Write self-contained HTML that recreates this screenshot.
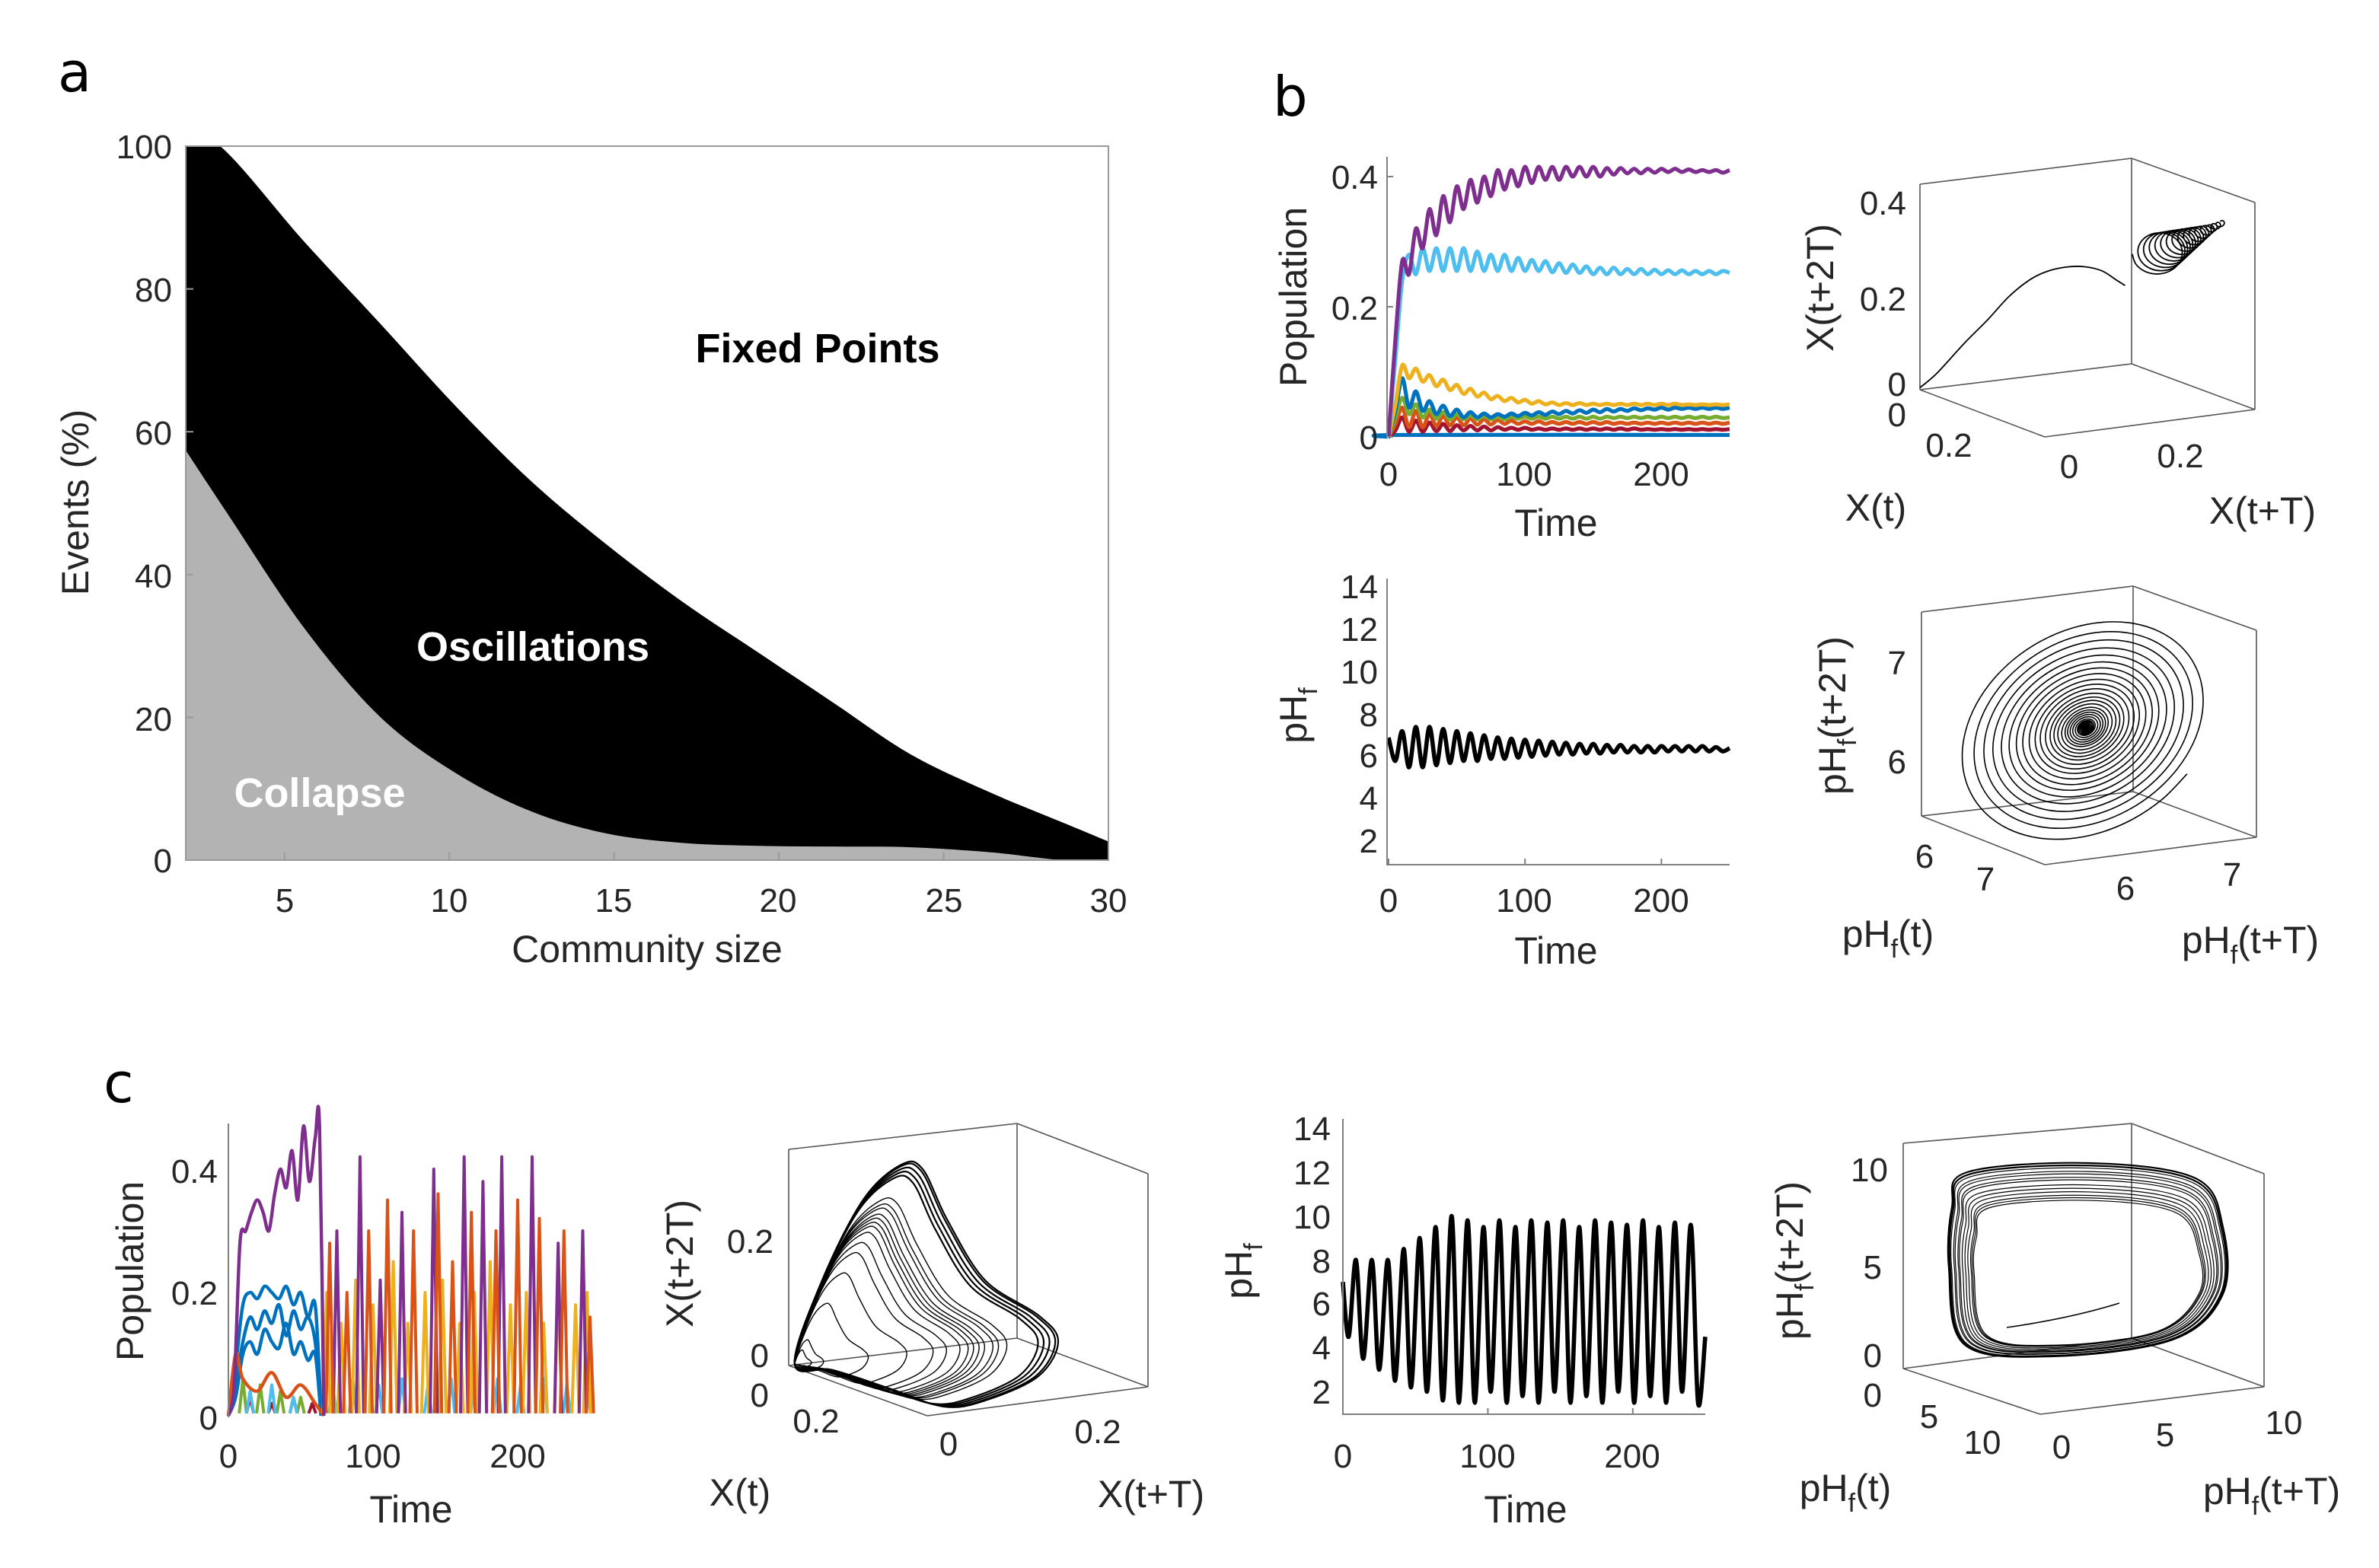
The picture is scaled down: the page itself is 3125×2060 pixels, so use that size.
<!DOCTYPE html>
<html><head><meta charset="utf-8"><style>
html,body{margin:0;padding:0;background:#fff;}
svg{display:block;}
text{font-family:"Liberation Sans",Arial,sans-serif;fill:#262626;}
.tk{font-size:22px;}
.lb{font-size:25px;}
.pl{font-family:"DejaVu Sans","Liberation Sans",sans-serif;font-size:36px;fill:#000;}
</style></head><body>
<svg id="fig" width="3125" height="2060" viewBox="0 0 1562.5 1030" xmlns="http://www.w3.org/2000/svg">
<defs><clipPath id="aclip"><rect x="122" y="96" width="606" height="469"/></clipPath></defs>
<rect x="0" y="0" width="1562.5" height="1030" fill="#fff"/>
<text class="pl" x="38" y="60">a</text>
<text class="pl" x="836" y="76">b</text>
<text class="pl" x="68" y="724">c</text>

<g id="pa"></g>
<g id="pb1"></g>
<g id="pb2"></g>
<g id="pb3"></g>
<g id="pb4"></g>
<g id="pc1"></g>
<g id="pc2"></g>
<g id="pc3"></g>
<g id="pc4"></g>

<g>
<text class="tk" x="113" y="104" text-anchor="end">100</text>
<text class="tk" x="113" y="198" text-anchor="end">80</text>
<text class="tk" x="113" y="292" text-anchor="end">60</text>
<text class="tk" x="113" y="386" text-anchor="end">40</text>
<text class="tk" x="113" y="480" text-anchor="end">20</text>
<text class="tk" x="113" y="573" text-anchor="end">0</text>
<text class="tk" x="187" y="599" text-anchor="middle">5</text>
<text class="tk" x="295" y="599" text-anchor="middle">10</text>
<text class="tk" x="403" y="599" text-anchor="middle">15</text>
<text class="tk" x="511" y="599" text-anchor="middle">20</text>
<text class="tk" x="620" y="599" text-anchor="middle">25</text>
<text class="tk" x="728" y="599" text-anchor="middle">30</text>
<text class="lb" x="425" y="632" text-anchor="middle">Community size</text>
<text class="lb" transform="translate(58,330) rotate(-90)" text-anchor="middle">Events (%)</text>
<text x="537" y="238" text-anchor="middle" style="font-size:27px;font-weight:bold;fill:#000">Fixed Points</text>
<text x="350" y="434" text-anchor="middle" style="font-size:27px;font-weight:bold;fill:#fff">Oscillations</text>
<text x="210" y="530" text-anchor="middle" style="font-size:27px;font-weight:bold;fill:#fff">Collapse</text>
</g>

<g>
<text class="tk" x="905" y="124" text-anchor="end">0.4</text>
<text class="tk" x="905" y="210" text-anchor="end">0.2</text>
<text class="tk" x="905" y="295" text-anchor="end">0</text>
<text class="tk" x="912" y="319" text-anchor="middle">0</text>
<text class="tk" x="1001" y="319" text-anchor="middle">100</text>
<text class="tk" x="1091" y="319" text-anchor="middle">200</text>
<text class="lb" x="1022" y="352" text-anchor="middle">Time</text>
<text class="lb" transform="translate(858,195) rotate(-90)" text-anchor="middle">Population</text>

<text class="tk" x="1252" y="141" text-anchor="end">0.4</text>
<text class="tk" x="1252" y="204" text-anchor="end">0.2</text>
<text class="tk" x="1252" y="260" text-anchor="end">0</text>
<text class="tk" x="1252" y="280" text-anchor="end">0</text>
<text class="tk" x="1280" y="300" text-anchor="middle">0.2</text>
<text class="tk" x="1359" y="314" text-anchor="middle">0</text>
<text class="tk" x="1432" y="307" text-anchor="middle">0.2</text>
<text class="lb" x="1232" y="342" text-anchor="middle">X(t)</text>
<text class="lb" x="1486" y="344" text-anchor="middle">X(t+T)</text>
<text class="lb" transform="translate(1204,189) rotate(-90)" text-anchor="middle">X(t+2T)</text>

<text class="tk" x="905" y="393" text-anchor="end">14</text>
<text class="tk" x="905" y="421" text-anchor="end">12</text>
<text class="tk" x="905" y="449" text-anchor="end">10</text>
<text class="tk" x="905" y="477" text-anchor="end">8</text>
<text class="tk" x="905" y="504" text-anchor="end">6</text>
<text class="tk" x="905" y="532" text-anchor="end">4</text>
<text class="tk" x="905" y="560" text-anchor="end">2</text>
<text class="tk" x="912" y="599" text-anchor="middle">0</text>
<text class="tk" x="1001" y="599" text-anchor="middle">100</text>
<text class="tk" x="1091" y="599" text-anchor="middle">200</text>
<text class="lb" x="1022" y="633" text-anchor="middle">Time</text>
<text class="lb" transform="translate(858,470) rotate(-90)" text-anchor="middle">pH<tspan dy="7" font-size="17">f</tspan></text>

<text class="tk" x="1252" y="443" text-anchor="end">7</text>
<text class="tk" x="1252" y="508" text-anchor="end">6</text>
<text class="tk" x="1264" y="570" text-anchor="middle">6</text>
<text class="tk" x="1304" y="585" text-anchor="middle">7</text>
<text class="tk" x="1396" y="591" text-anchor="middle">6</text>
<text class="tk" x="1466" y="582" text-anchor="middle">7</text>
<text class="lb" x="1240" y="622" text-anchor="middle">pH<tspan dy="7" font-size="17">f</tspan><tspan dy="-7">(t)</tspan></text>
<text class="lb" x="1478" y="626" text-anchor="middle">pH<tspan dy="7" font-size="17">f</tspan><tspan dy="-7">(t+T)</tspan></text>
<text class="lb" transform="translate(1212,470) rotate(-90)" text-anchor="middle">pH<tspan dy="7" font-size="17">f</tspan><tspan dy="-7">(t+2T)</tspan></text>
</g>

<g>
<text class="tk" x="143" y="777" text-anchor="end">0.4</text>
<text class="tk" x="143" y="857" text-anchor="end">0.2</text>
<text class="tk" x="143" y="939" text-anchor="end">0</text>
<text class="tk" x="150" y="964" text-anchor="middle">0</text>
<text class="tk" x="245" y="964" text-anchor="middle">100</text>
<text class="tk" x="340" y="964" text-anchor="middle">200</text>
<text class="lb" x="270" y="1000" text-anchor="middle">Time</text>
<text class="lb" transform="translate(94,835) rotate(-90)" text-anchor="middle">Population</text>

<text class="tk" x="508" y="823" text-anchor="end">0.2</text>
<text class="tk" x="505" y="898" text-anchor="end">0</text>
<text class="tk" x="505" y="924" text-anchor="end">0</text>
<text class="tk" x="536" y="941" text-anchor="middle">0.2</text>
<text class="tk" x="623" y="956" text-anchor="middle">0</text>
<text class="tk" x="721" y="948" text-anchor="middle">0.2</text>
<text class="lb" x="486" y="989" text-anchor="middle">X(t)</text>
<text class="lb" x="756" y="990" text-anchor="middle">X(t+T)</text>
<text class="lb" transform="translate(455,830) rotate(-90)" text-anchor="middle">X(t+2T)</text>

<text class="tk" x="874" y="749" text-anchor="end">14</text>
<text class="tk" x="874" y="778" text-anchor="end">12</text>
<text class="tk" x="874" y="807" text-anchor="end">10</text>
<text class="tk" x="874" y="836" text-anchor="end">8</text>
<text class="tk" x="874" y="864" text-anchor="end">6</text>
<text class="tk" x="874" y="893" text-anchor="end">4</text>
<text class="tk" x="874" y="922" text-anchor="end">2</text>
<text class="tk" x="882" y="964" text-anchor="middle">0</text>
<text class="tk" x="977" y="964" text-anchor="middle">100</text>
<text class="tk" x="1072" y="964" text-anchor="middle">200</text>
<text class="lb" x="1002" y="1000" text-anchor="middle">Time</text>
<text class="lb" transform="translate(822,835) rotate(-90)" text-anchor="middle">pH<tspan dy="7" font-size="17">f</tspan></text>

<text class="tk" x="1240" y="776" text-anchor="end">10</text>
<text class="tk" x="1236" y="840" text-anchor="end">5</text>
<text class="tk" x="1236" y="898" text-anchor="end">0</text>
<text class="tk" x="1236" y="924" text-anchor="end">0</text>
<text class="tk" x="1267" y="938" text-anchor="middle">5</text>
<text class="tk" x="1302" y="955" text-anchor="middle">10</text>
<text class="tk" x="1354" y="958" text-anchor="middle">0</text>
<text class="tk" x="1422" y="950" text-anchor="middle">5</text>
<text class="tk" x="1500" y="942" text-anchor="middle">10</text>
<text class="lb" x="1212" y="986" text-anchor="middle">pH<tspan dy="7" font-size="17">f</tspan><tspan dy="-7">(t)</tspan></text>
<text class="lb" x="1492" y="988" text-anchor="middle">pH<tspan dy="7" font-size="17">f</tspan><tspan dy="-7">(t+T)</tspan></text>
<text class="lb" transform="translate(1184,828) rotate(-90)" text-anchor="middle">pH<tspan dy="7" font-size="17">f</tspan><tspan dy="-7">(t+2T)</tspan></text>
</g>
</svg>
<script>
// Panel a
const aUpperX = [2, 3.04, 5.58, 7.89, 10.19, 12.5, 14.8, 17.1, 19.4, 21.7, 24, 26.4, 28.7, 30];
const aUpperY = [100, 100, 86.7, 75.2, 63.6, 53, 44.1, 36.1, 29, 21.9, 14.8, 9.5, 5.1, 2.6];
const aLowerX = [2, 3.27, 5.58, 7.89, 10.19, 12.5, 14.8, 17.1, 19.4, 21.7, 24, 26.4, 28.6, 30];
const aLowerY = [57.4, 48.5, 32.6, 20.1, 12.2, 6.8, 3.7, 2.4, 2.0, 1.9, 1.8, 1.1, 0, 0];
const aXTicks = [5, 10, 15, 20, 25, 30];
const aYTicks = [0, 20, 40, 60, 80, 100];

// Panel b1
const b1Time = Array.from({length: 51}, (_, i) => i * 5);
const b1Purple = [0,.15,.27,.25,.32,.29,.35,.31,.37,.33,.385,.35,.395,.36,.40,.37,.41,.38,.41,.385,.415,.39,.415,.395,.415,.395,.415,.40,.415,.40,.415,.40,.413,.403,.413,.405,.412,.405,.412,.406,.412,.407,.412,.407,.411,.407,.41,.407,.41,.406,.41];
const b1LBlue = [0,.12,.24,.28,.25,.29,.255,.29,.255,.29,.255,.29,.255,.285,.255,.28,.255,.28,.255,.275,.255,.272,.255,.27,.253,.267,.252,.265,.252,.262,.25,.26,.25,.26,.25,.258,.25,.258,.25,.257,.25,.256,.25,.256,.25,.255,.25,.255,.25,.255,.252];
const b1Yellow = [0,.05,.11,.09,.105,.085,.095,.078,.088,.072,.08,.066,.074,.062,.068,.058,.063,.055,.06,.053,.057,.051,.055,.05,.053,.049,.052,.049,.052,.049,.051,.049,.051,.049,.051,.049,.051,.049,.051,.049,.051,.049,.051,.049,.05,.049,.05,.049,.05,.049,.05];
const b1Blue = [0,.04,.09,.045,.07,.04,.055,.035,.048,.032,.042,.03,.038,.03,.036,.03,.035,.031,.036,.032,.037,.033,.038,.034,.039,.035,.04,.036,.041,.037,.042,.038,.043,.039,.043,.04,.044,.041,.044,.042,.045,.042,.045,.043,.045,.043,.045,.043,.045,.043,.045];
const b1Green = [0,.03,.06,.035,.05,.03,.042,.028,.038,.027,.035,.027,.033,.027,.032,.027,.031,.027,.031,.028,.031,.028,.031,.028,.031,.028,.031,.028,.031,.028,.031,.028,.031,.029,.031,.029,.031,.029,.031,.029,.031,.029,.031,.029,.031,.029,.031,.029,.031,.029,.03];
const b1Orange = [0,.02,.045,.015,.04,.015,.035,.017,.032,.018,.03,.018,.028,.019,.027,.019,.026,.02,.025,.02,.024,.02,.024,.02,.023,.02,.023,.02,.023,.02,.023,.02,.023,.02,.022,.02,.022,.02,.022,.02,.022,.02,.022,.02,.022,.02,.022,.02,.022,.02,.022];
const b1Red = [0,.01,.03,.008,.025,.008,.022,.009,.02,.009,.018,.01,.017,.01,.016,.01,.015,.011,.014,.011,.014,.011,.013,.011,.013,.011,.013,.011,.013,.011,.013,.011,.013,.011,.013,.011,.013,.011,.012,.011,.012,.011,.012,.011,.012,.011,.012,.011,.012,.011,.012];
const b1DarkTime = [0, 10, 250];
const b1Dark = [0, .003, .003];
const b1XTicks = [0, 100, 200];
const b1YTicks = [0, 0.2, 0.4];

// Panel b3
const b3Time = Array.from({length: 51}, (_, i) => i * 5);
const b3PH = [7,5.9,7.3,5.6,7.5,5.6,7.5,5.7,7.4,5.8,7.3,5.9,7.2,5.9,7.1,6.0,7.0,6.0,6.95,6.05,6.9,6.1,6.85,6.15,6.8,6.2,6.75,6.2,6.7,6.25,6.7,6.25,6.65,6.3,6.65,6.3,6.6,6.3,6.6,6.3,6.6,6.35,6.6,6.35,6.6,6.35,6.6,6.35,6.55,6.35,6.5];
const b3XTicks = [0, 100, 200];

// Panel b2 trajectory
const b2PathU = [0, .08, .21, .32, .42, .52, .6, .69, .78, .86, .92, .94];
const b2PathV = [0, 0, 0, 0, 0, 0, 0, 0, 0, 0, .02, .05];
const b2PathW = [.01, .07, .2, .3, .4, .47, .5, .51, .5, .47, .42, .4];
const b2LoopR = [16, 15, 14, 13, 12, 11, 10, 9, 8, 7, 6, 5, 4, 3, 2.5, 2];

// Panel b4 spiral rings
const b4Rings = [1,.9,.82,.75,.68,.62,.56,.51,.46,.41,.37,.33,.29,.26,.23,.2,.17,.15,.13,.11,.09,.07,.06,.05,.04,.03,.02,.015];

// Panel c1
const c1PurpleT = [0,4,8,12,16,20,24,28,32,36,40,44,48,52,56,60,63,66];
const c1PurpleV = [0,.05,.28,.3,.33,.35,.33,.3,.36,.4,.37,.43,.35,.47,.38,.45,.47,0];
const c1BlueT = [0,5,10,15,20,25,30,35,40,45,50,55,60,64];
const c1Blue1 = [0,.08,.18,.2,.19,.21,.2,.19,.21,.18,.2,.16,.18,.01];
const c1Blue2 = [0,.05,.12,.16,.14,.17,.15,.18,.13,.17,.14,.16,.12,.01];
const c1Blue3 = [0,.03,.1,.12,.1,.14,.12,.11,.15,.1,.12,.09,.1,0];
const c1OrangeEarlyT = [0,5,10,20,30,40,50,60,66];
const c1OrangeEarly = [0,.1,.06,.04,.07,.03,.05,.02,0];
const c1PurpleSpikeT = [75,91,105,120,142,163,176,189,210,228,245];
const c1PurpleSpikeV = [.3,.42,.22,.33,.4,.42,.38,.42,.42,.28,.3];
const c1OrangeSpikeT = [70,82,97,110,128,145,155,168,185,200,215,232,250];
const c1OrangeSpikeV = [.28,.2,.3,.35,.3,.36,.25,.33,.3,.35,.32,.3,.16];
const c1YellowSpikeT = [68,78,88,100,114,124,136,148,160,170,181,195,206,218,228,240,248];
const c1YellowSpikeV = [.2,.15,.22,.18,.25,.15,.2,.22,.15,.2,.25,.18,.2,.15,.22,.18,.2];
const c1LBlueSpikeT = [15,30,45,72,86,104,120,138,154,170,186,202,218,234,248];
const c1LBlueSpikeV = [.04,.05,.03,.05,.06,.05,.06,.05,.06,.05,.06,.05,.06,.05,.04];
const c1GreenSpikeT = [10,22,36,50];
const c1GreenSpikeV = [.06,.05,.04,.03];
const c1RedSpikeT = [15,30,45,58];
const c1RedSpikeV = [.03,.02,.03,.02];
const c1XTicks = [0, 100, 200];

// Panel c3
const c3Time = [0,4,9,14,20,25,31,36,42,47,53,58,64,69,75,80,86,91,97,102,108,113,119,124,130,135,141,146,152,157,163,168,174,179,185,190,196,201,207,212,218,223,229,234,240,245,250];
const c3PH = [7,4.5,8,3.5,8,3,8,2.5,8.5,2.2,9,2,9.5,1.6,10,1.5,9.8,1.5,9.5,2,9.8,1.5,9.5,1.8,9.8,1.5,9.7,2,9.8,1.5,9.5,1.8,9.8,1.5,9.7,2,9.6,1.5,9.8,1.8,9.5,1.5,9.7,2,9.6,1.5,4.5];
const c3XTicks = [0, 100, 200];

// Panel c2 / c4 loops
const c2Scales = [1,.99,.97,.95,.93,.82,.79,.77,.74,.72,.7,.68,.65,.6,.55,.45,.3,.12,.07];
const c4Scales = [1,.99,.98,.96,.95,.93,.92,.9,.88,.86,.84,.83,.82];
const c4Shift = [0,1,2,3,4,5,6,8,9,10,11,12,13];

const NS = 'http://www.w3.org/2000/svg';
function mk(tag, attrs, parent) {
  const e = document.createElementNS(NS, tag);
  for (const k in attrs) e.setAttribute(k, attrs[k]);
  parent.appendChild(e);
  return e;
}
function smooth(pts, closed) {
  const n = pts.length;
  if (n < 2) return '';
  let d = 'M' + pts[0][0].toFixed(2) + ',' + pts[0][1].toFixed(2);
  const get = i => closed ? pts[(i + n) % n] : pts[Math.max(0, Math.min(n - 1, i))];
  const last = closed ? n : n - 1;
  for (let i = 0; i < last; i++) {
    const p0 = get(i - 1), p1 = get(i), p2 = get(i + 1), p3 = get(i + 2);
    const c1 = [p1[0] + (p2[0] - p0[0]) / 6, p1[1] + (p2[1] - p0[1]) / 6];
    const c2 = [p2[0] - (p3[0] - p1[0]) / 6, p2[1] - (p3[1] - p1[1]) / 6];
    d += 'C' + c1[0].toFixed(2) + ',' + c1[1].toFixed(2) + ' ' + c2[0].toFixed(2) + ',' + c2[1].toFixed(2) + ' ' + p2[0].toFixed(2) + ',' + p2[1].toFixed(2);
  }
  if (closed) d += 'Z';
  return d;
}
function zip(xs, ys, fx, fy) {
  const n = Math.min(xs.length, ys.length), out = [];
  for (let i = 0; i < n; i++) out.push([fx(xs[i]), fy(ys[i])]);
  return out;
}
const AX = '#808080';

// PANEL A
(function () {
  const g = document.getElementById('pa');
  const ax = v => 122 + (v - 2) / 28 * 606;
  const ay = v => 565 - v / 100 * 469;
  const up = zip(aUpperX, aUpperY, ax, ay);
  const lo = zip(aLowerX, aLowerY, ax, ay);
  const cg = mk('g', {'clip-path': 'url(#aclip)'}, g);
  
  
  const blk = mk('path', {d: smooth(up, false) + 'L' + ax(30) + ',' + ay(0) + 'L' + ax(2) + ',' + ay(0) + 'Z', fill: '#000'}, cg);
  
  
  const gr = mk('path', {d: smooth(lo, false) + 'L' + ax(30) + ',' + ay(0) + 'L' + ax(2) + ',' + ay(0) + 'Z', fill: '#b3b3b3'}, cg);
  
  
  const box = mk('rect', {x: 122, y: 96, width: 606, height: 469, fill: 'none', stroke: '#999', 'stroke-width': 1}, g);
  
  
  aXTicks.forEach(t => {
    const l = mk('line', {x1: ax(t), x2: ax(t), y1: 565, y2: 560, stroke: '#999', 'stroke-width': 1}, g);
    
    
  });
  aYTicks.forEach(t => {
    const l = mk('line', {x1: 122, x2: 127, y1: ay(t), y2: ay(t), stroke: '#999', 'stroke-width': 1}, g);
    
    
  });
})();

// PANEL B1
(function () {
  const g = document.getElementById('pb1');
  const x = t => 912 + t / 250 * 224;
  const y = v => 287 - v / 0.4 * 171;
  const series = [
    ['b1-dark-blue-line', b1DarkTime, b1Dark, '#0072BD'],
    ['b1-red-line', b1Time, b1Red, '#A2142F'],
    ['b1-orange-line', b1Time, b1Orange, '#D95319'],
    ['b1-green-line', b1Time, b1Green, '#77AC30'],
    ['b1-blue-line', b1Time, b1Blue, '#0072BD'],
    ['b1-yellow-line', b1Time, b1Yellow, '#EDB120'],
    ['b1-light-blue-line', b1Time, b1LBlue, '#4DBEEE'],
    ['b1-purple-line', b1Time, b1Purple, '#7E2F8E']
  ];
  series.forEach(s => {
    const p = mk('path', {d: smooth(zip(s[1], s[2], x, y), false), fill: 'none', stroke: s[3], 'stroke-width': 2.6, 'stroke-linejoin': 'round'}, g);
    
    
  });
  const ya = mk('line', {x1: 911, x2: 911, y1: 103, y2: 287, stroke: AX, 'stroke-width': 1}, g);
  
  
  b1YTicks.forEach(t => {
    const l = mk('line', {x1: 911, x2: 915, y1: y(t), y2: y(t), stroke: AX}, g);
    
    
  });
})();

// PANEL B3
(function () {
  const g = document.getElementById('pb3');
  const x = t => 912 + t / 250 * 224;
  const y = v => 582 - v * 13.93;
  const p = mk('path', {d: smooth(zip(b3Time, b3PH, x, y), false), fill: 'none', stroke: '#000', 'stroke-width': 2.8}, g);
  
  
  const ya = mk('polyline', {points: '911,380 911,568 1136,568', fill: 'none', stroke: AX, 'stroke-width': 1}, g);
  
  
  b3XTicks.forEach(t => {
    const l = mk('line', {x1: x(t), x2: x(t), y1: 568, y2: 564, stroke: AX}, g);
    
    
  });
})();

function cube(g, c, name) {
  const edges = [['A','B'],['B','C'],['A','D'],['B','E'],['C','F'],['D','E'],['E','F'],['D','G'],['G','F']];
  edges.forEach(e => {
    const l = mk('line', {x1: c[e[0]][0], y1: c[e[0]][1], x2: c[e[1]][0], y2: c[e[1]][1], stroke: '#555', 'stroke-width': 0.8}, g);
    
    
  });
}

// PANEL B2
(function () {
  const g = document.getElementById('pb2');
  const C = {A:[1261,121],B:[1400,104],C:[1481,133],D:[1261,256],E:[1400,239],F:[1481,269],G:[1343,287]};
  cube(g, C, 'b2');
  const proj = (u, v, w) => [1261 + 139 * u + 82 * v, 256 - 17 * u + 31 * v - 135 * w];
  const pts = [];
  for (let i = 0; i < Math.min(b2PathU.length, b2PathV.length, b2PathW.length); i++) pts.push(proj(b2PathU[i], b2PathV[i], b2PathW[i]));
  const p = mk('path', {d: smooth(pts, false), fill: 'none', stroke: '#000', 'stroke-width': 0.9}, g);
  
  
  const s = proj(1.0, .2, .58), e = proj(1.05, .65, .83);
  const n = b2LoopR.length;
  const sp = [];
  for (let k = 0; k < n; k++) {
    for (let j = 0; j < 12; j++) {
      const f = (k + j / 12) / n;
      const cx = s[0] + (e[0] - s[0]) * f, cy = s[1] + (e[1] - s[1]) * f;
      const r = b2LoopR[k] + ((b2LoopR[Math.min(k + 1, n - 1)]) - b2LoopR[k]) * j / 12;
      const a = Math.PI + j / 12 * 2 * Math.PI;
      sp.push([cx + r * Math.cos(a), cy - 0.85 * r * Math.sin(a)]);
    }
  }
  const q = mk('path', {d: smooth(sp, false), fill: 'none', stroke: '#000', 'stroke-width': 0.9}, g);
  
  
})();

// PANEL B4
(function () {
  const g = document.getElementById('pb4');
  const C = {A:[1262,402],B:[1401,385],C:[1482,414],D:[1262,536],E:[1401,520],F:[1482,550],G:[1343,568]};
  cube(g, C, 'b4');
  const cx = 1370, cy = 478, RX = 90, RY = 68, rot = -0.55;
  const pts = [];
  const n = b4Rings.length;
  for (let k = 0; k < n - 1; k++) {
    for (let j = 0; j < 24; j++) {
      const r = b4Rings[k] + (b4Rings[k + 1] - b4Rings[k]) * j / 24;
      const a = 1.1 + j / 24 * 2 * Math.PI;
      const ex = RX * r * Math.cos(a), ey = RY * r * Math.sin(a);
      pts.push([cx + ex * Math.cos(rot) - ey * Math.sin(rot), cy + ex * Math.sin(rot) + ey * Math.cos(rot)]);
    }
  }
  const p = mk('path', {d: smooth(pts, false), fill: 'none', stroke: '#000', 'stroke-width': 0.8}, g);
  
  
  const dot = mk('circle', {cx: cx, cy: cy, r: 3, fill: '#000'}, g);
  
  
})();

// PANEL C1
(function () {
  const g = document.getElementById('pc1');
  const x = t => 150 + t * 0.95;
  const y = v => 930 - v / 0.4 * 162;
  function spikes(ts, vs, color, name) {
    let d = '';
    for (let i = 0; i < Math.min(ts.length, vs.length); i++) {
      d += 'M' + x(ts[i] - 2.5) + ',' + y(0.004) + 'L' + x(ts[i]) + ',' + y(vs[i]) + 'L' + x(ts[i] + 2.5) + ',' + y(0.004);
    }
    const p = mk('path', {d: d, fill: 'none', stroke: color, 'stroke-width': 2, 'stroke-linejoin': 'round'}, g);
    
    
  }
  spikes(c1RedSpikeT, c1RedSpikeV, '#A2142F', 'c1-red-spikes');
  spikes(c1GreenSpikeT, c1GreenSpikeV, '#77AC30', 'c1-green-spikes');
  spikes(c1LBlueSpikeT, c1LBlueSpikeV, '#4DBEEE', 'c1-light-blue-spikes');
  const lines = [
    ['c1-blue-line-3', c1BlueT, c1Blue3, '#0072BD'],
    ['c1-blue-line-2', c1BlueT, c1Blue2, '#0072BD'],
    ['c1-blue-line-1', c1BlueT, c1Blue1, '#0072BD'],
    ['c1-orange-early-line', c1OrangeEarlyT, c1OrangeEarly, '#D95319']
  ];
  lines.forEach(s => {
    const p = mk('path', {d: smooth(zip(s[1], s[2], x, y), false), fill: 'none', stroke: s[3], 'stroke-width': 2.2}, g);
    
    
  });
  spikes(c1YellowSpikeT, c1YellowSpikeV, '#EDB120', 'c1-yellow-spikes');
  spikes(c1PurpleSpikeT, c1PurpleSpikeV, '#7E2F8E', 'c1-purple-spikes');
  spikes(c1OrangeSpikeT, c1OrangeSpikeV, '#D95319', 'c1-orange-spikes');
  const pp = mk('path', {d: smooth(zip(c1PurpleT, c1PurpleV, x, y), false), fill: 'none', stroke: '#7E2F8E', 'stroke-width': 2.2}, g);
  
  
  const ya = mk('line', {x1: 150, x2: 150, y1: 738, y2: 931, stroke: AX, 'stroke-width': 1}, g);
  
  
})();

// PANEL C2
(function () {
  const g = document.getElementById('pc2');
  const C = {A:[518,755],B:[668,738],C:[754,771],D:[518,897],E:[668,879],F:[754,911],G:[609,930]};
  cube(g, C, 'c2');
  const ox = 522, oy = 896;
  const tpl = [[0,0],[18,-55],[45,-108],[70,-131],[84,-128],[100,-95],[125,-55],[160,-32],[173,-15],[160,8],[125,24],[98,28],[62,16],[25,4]];
  c2Scales.forEach((s, i) => {
    const pts = tpl.map(p => [ox + p[0] * s * (0.9 + 0.1 * s), oy + p[1] * s]);
    const l = mk('path', {d: smooth(pts, true), fill: 'none', stroke: '#000', 'stroke-width': i < 5 ? 1.1 : 0.7}, g);
    
    
  });
})();

// PANEL C3
(function () {
  const g = document.getElementById('pc3');
  const x = t => 882 + t * 0.952;
  const y = v => 943 - v * 14.42;
  const p = mk('path', {d: smooth(zip(c3Time, c3PH, x, y), false), fill: 'none', stroke: '#000', 'stroke-width': 2.8}, g);
  
  
  const ax = mk('polyline', {points: '882,735 882,929 1120,929', fill: 'none', stroke: AX, 'stroke-width': 1}, g);
  
  
  c3XTicks.forEach(t => {
    const l = mk('line', {x1: x(t), x2: x(t), y1: 929, y2: 925, stroke: AX}, g);
    
    
  });
})();

// PANEL C4
(function () {
  const g = document.getElementById('pc4');
  const C = {A:[1250,751],B:[1400,738],C:[1487,771],D:[1250,899],E:[1400,879],F:[1487,911],G:[1340,929]};
  cube(g, C, 'c4');
  const cx = 1372, cy = 828;
  const tpl = [[-80,-58],[0,-64],[70,-54],[88,-22],[88,22],[55,52],[-25,63],[-82,55],[-92,5],[-90,-35]];
  c4Scales.forEach((s, i) => {
    const dy = c4Shift[i] || 0;
    const pts = tpl.map(p => [cx + p[0] * s, cy + p[1] * s + dy * (p[1] < 0 ? 1 : 0.3)]);
    const l = mk('path', {d: smooth(pts, true), fill: 'none', stroke: '#000', 'stroke-width': i < 2 ? 1.1 : 0.6}, g);
    
    
  });
  const tail = mk('path', {d: 'M1318,872 Q1360,866 1392,856', fill: 'none', stroke: '#000', 'stroke-width': 0.8}, g);
  
  
})();
</script>
</body></html>
